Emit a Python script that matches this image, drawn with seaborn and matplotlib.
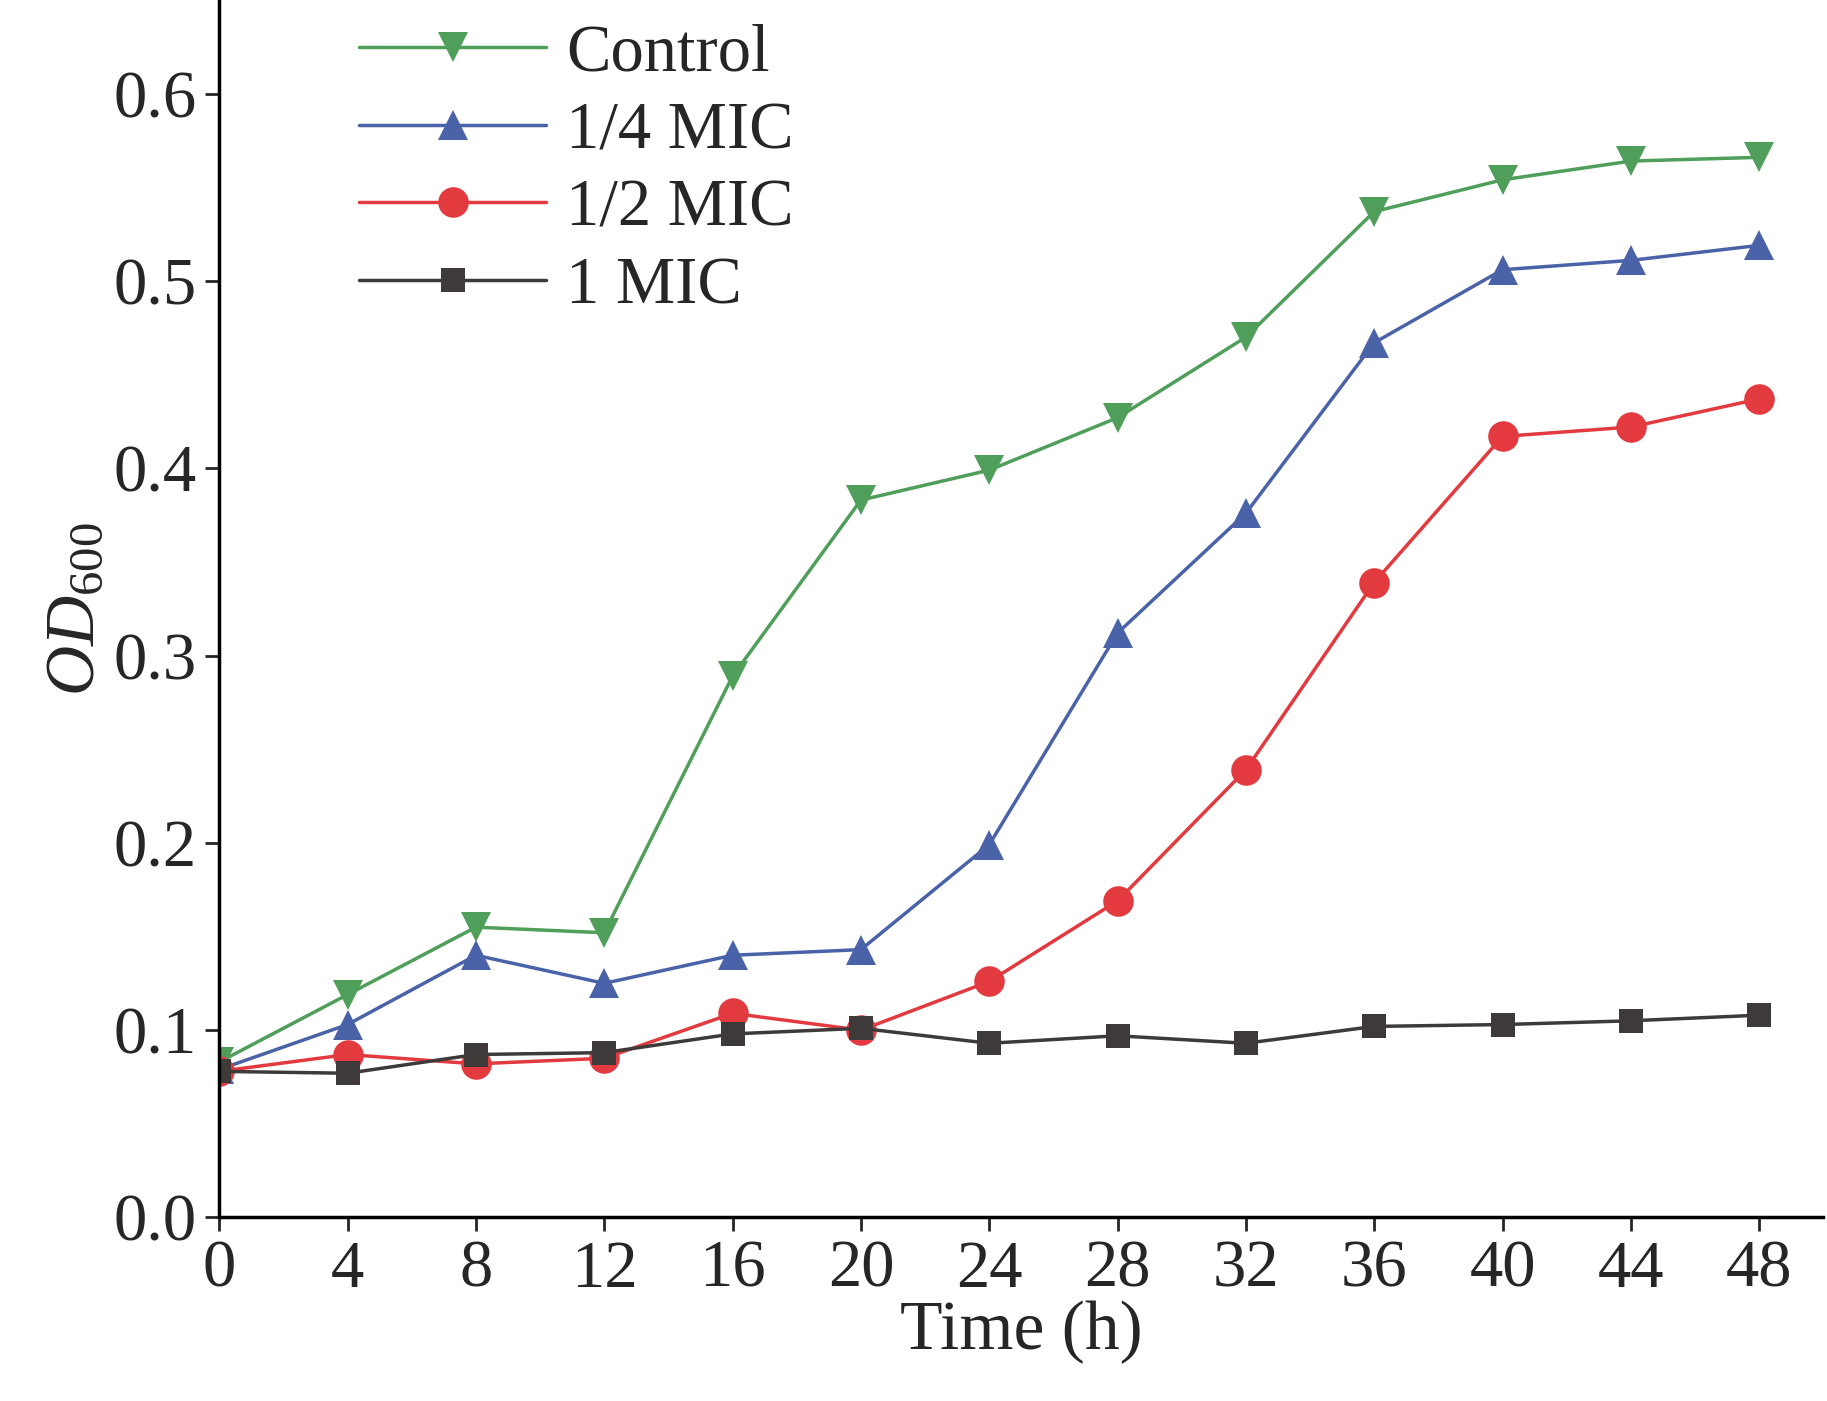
import matplotlib
matplotlib.use("Agg")
import matplotlib.pyplot as plt
import seaborn as sns
import pandas as pd

time = [0, 4, 8, 12, 16, 20, 24, 28, 32, 36, 40, 44, 48]
control = [0.083, 0.119, 0.155, 0.152, 0.289, 0.383, 0.399, 0.427, 0.470, 0.537, 0.554, 0.564, 0.566]
quarter = [0.079, 0.103, 0.140, 0.125, 0.140, 0.143, 0.199, 0.312, 0.376, 0.467, 0.506, 0.511, 0.519]
half = [0.078, 0.087, 0.082, 0.085, 0.109, 0.100, 0.126, 0.169, 0.239, 0.339, 0.417, 0.422, 0.437]
one = [0.078, 0.077, 0.087, 0.088, 0.098, 0.101, 0.093, 0.097, 0.093, 0.102, 0.103, 0.105, 0.108]
labels = ["Control", "1/4 MIC", "1/2 MIC", "1 MIC"]
colors = ["#4f9e5a", "#4a63a8", "#e23a3f", "#3f3a3a"]
markers = ["v", "^", "o", "s"]

sns.set_theme(style="ticks")
plt.rcParams['font.family'] = ['Liberation Serif', 'DejaVu Serif']
plt.rcParams['mathtext.fontset'] = 'custom'
plt.rcParams['mathtext.it'] = 'Liberation Serif:italic'
plt.rcParams['mathtext.rm'] = 'Liberation Serif'

fig = plt.figure(figsize=(18.27, 14.01), dpi=100)
ax = fig.add_axes([0.12, 0.131, 0.878, 0.869])
for lab, vals, c, m in zip(labels, [control, quarter, half, one], colors, markers):
    df = pd.DataFrame({"t": time, "v": vals})
    sns.lineplot(data=df, x="t", y="v", ax=ax, color=c, marker=m, markersize=22 if m != "s" else 17,
                 markeredgewidth=0, linewidth=2.5, label=lab)

ax.set_xlim(0, 50)
ax.set_ylim(0, 0.65)
ax.set_xticks(time)
ax.set_yticks([0.0, 0.1, 0.2, 0.3, 0.4, 0.5, 0.6])
ax.set_yticklabels(["0.0", "0.1", "0.2", "0.3", "0.4", "0.5", "0.6"])
ax.tick_params(labelsize=48, length=10, width=2, direction="out", pad=6)
for s in ["top", "right"]:
    ax.spines[s].set_visible(False)
for s in ["left", "bottom"]:
    ax.spines[s].set_linewidth(2.5)
    ax.spines[s].set_color("black")
ax.set_xlabel("Time (h)", fontsize=50, labelpad=0)
ax.set_ylabel(r"$\mathit{OD}_{\mathrm{600}}$", fontsize=50, labelpad=4)
leg = ax.legend(loc="upper left", frameon=False, fontsize=48, handlelength=2.8,
                handletextpad=0.3, bbox_to_anchor=(0.05, 1.03), labelspacing=0.25)
fig.savefig("out.png", dpi=100)
